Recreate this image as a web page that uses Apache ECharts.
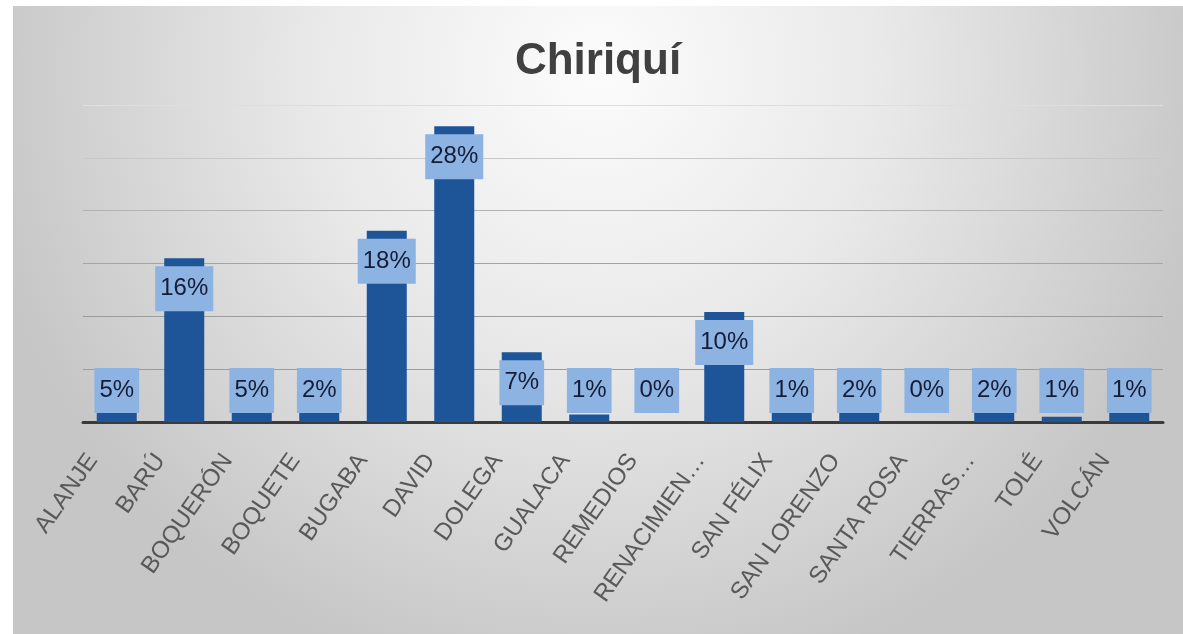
<!DOCTYPE html>
<html>
<head>
<meta charset="utf-8">
<script src="https://cdn.jsdelivr.net/npm/echarts@6/dist/echarts.min.js"></script>
<style>
  html, body { margin: 0; padding: 0; background: #ffffff; width: 1183px; height: 634px; overflow: hidden; }
  #chart { position: absolute; left: 13px; top: 6px; width: 1170px; height: 628px; }
</style>
</head>
<body>
<div id="chart"></div>
<script>
// ---- Data ----
const categories = ['ALANJE', 'BARÚ', 'BOQUERÓN', 'BOQUETE', 'BUGABA', 'DAVID', 'DOLEGA', 'GUALACA',
  'REMEDIOS', 'RENACIMIENTO', 'SAN FÉLIX', 'SAN LORENZO', 'SANTA ROSA', 'TIERRAS ALTAS', 'TOLÉ', 'VOLCÁN'];
const tickLabels = ['ALANJE', 'BARÚ', 'BOQUERÓN', 'BOQUETE', 'BUGABA', 'DAVID', 'DOLEGA', 'GUALACA',
  'REMEDIOS', 'RENACIMIEN…', 'SAN FÉLIX', 'SAN LORENZO', 'SANTA ROSA', 'TIERRAS…', 'TOLÉ', 'VOLCÁN'];
const values = [4.8, 15.5, 4.8, 2.0, 18.1, 28.0, 6.6, 0.7, 0, 10.4, 1.2, 2.0, 0, 2.0, 0.5, 1.2]; // percent
const yTicks = [0, 5, 10, 15, 20, 25, 30];
const titleText = 'Chiriquí';

// ---- Layout ----
const W = 1170, H = 628;
const grid = { left: 70, right: 20, top: 99, bottom: 212 };
const yMax = yTicks[yTicks.length - 1];
const pxPerUnit = (H - grid.top - grid.bottom) / yMax;
const topGap = 8, boxH = 45, bottomGap = 9;
const thresholdVal = (topGap + boxH + bottomGap) / pxPerUnit;

const seriesData = values.map(v => ({
  value: v,
  label: v >= thresholdVal
    ? { position: 'insideTop', distance: topGap }
    : { position: 'insideBottom', distance: bottomGap }
}));

const chart = echarts.init(document.getElementById('chart'), null, { renderer: 'canvas' });
chart.setOption({
  animation: false,
  backgroundColor: {
    type: 'radial', x: 0.5, y: 0.1, r: 1.0,
    colorStops: [
      { offset: 0, color: '#fcfcfc' },
      { offset: 0.45, color: '#e9e9e9' },
      { offset: 1, color: '#c6c6c6' }
    ]
  },
  title: {
    text: titleText,
    left: 'center',
    top: 29,
    textStyle: {
      fontFamily: '"Liberation Sans", Arial, sans-serif',
      fontSize: 44, fontWeight: 'bold', color: '#404040'
    }
  },
  grid: grid,
  xAxis: {
    type: 'category',
    data: categories,
    axisLine: { show: true, lineStyle: { color: '#3a3a3a', width: 3 } },
    axisTick: { show: false },
    axisLabel: {
      interval: 0,
      rotate: 55,
      margin: 0,
      padding: [0, 42, 0, 0],
      color: '#595959',
      fontFamily: '"Liberation Sans", Arial, sans-serif',
      fontSize: 24,
      formatter: (val, idx) => tickLabels[idx]
    }
  },
  yAxis: {
    type: 'value',
    min: yTicks[0], max: yMax, interval: yTicks[1] - yTicks[0],
    axisLabel: { show: false },
    axisLine: { show: false },
    axisTick: { show: false },
    splitLine: {
      show: true,
      lineStyle: { width: 1, color: ['#555555', '#9c9c9c', '#9c9c9c', '#a4a4a4', '#b2b2b2', '#c8c8c8', '#dedede'] }
    }
  },
  series: [{
    type: 'bar',
    data: seriesData,
    barWidth: 40,
    itemStyle: { color: '#1d5598' },
    label: {
      show: true,
      formatter: p => Math.round(p.value) + '%',
      backgroundColor: '#8db3e2',
      padding: [9, 5],
      lineHeight: 27,
      color: '#141c36',
      fontFamily: '"Liberation Sans", Arial, sans-serif',
      fontSize: 24
    }
  }]
});
</script>
</body>
</html>
